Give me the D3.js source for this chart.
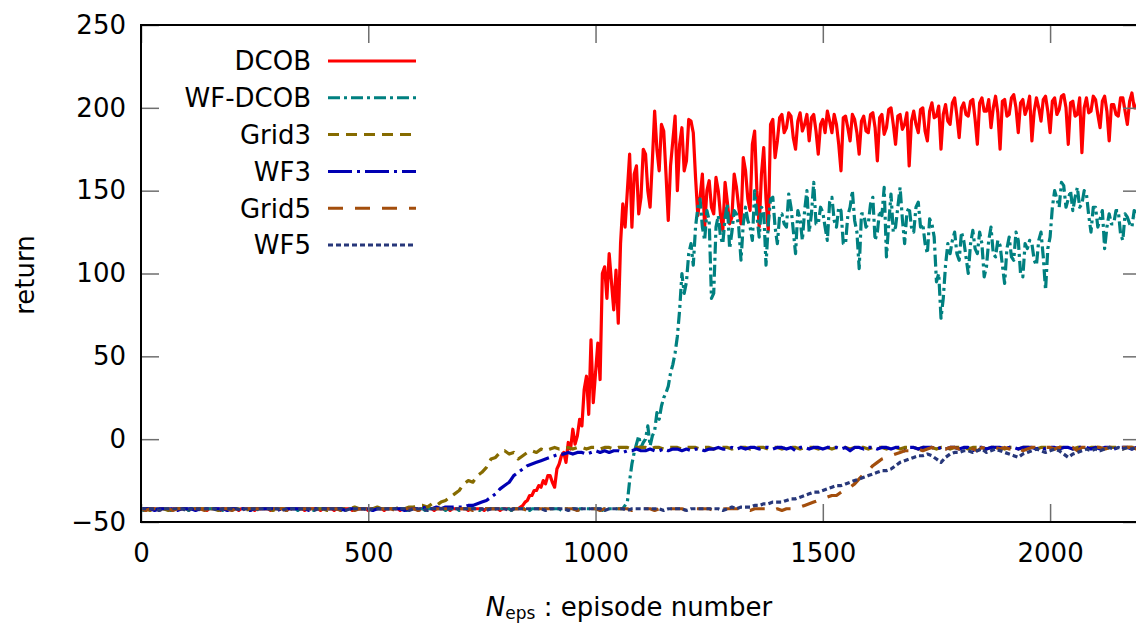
<!DOCTYPE html>
<html lang="en">
<head>
<meta charset="UTF-8">
<script src="https://d3js.org/d3.v7.min.js"></script>
<title>return vs episodes</title>
<style>
  body { margin: 0; background: #fff; }
  text { font-family: "DejaVu Sans", sans-serif; fill: #000; }
</style>
</head>
<body>
<svg id="chart" width="1136" height="625"></svg>
<script>
var width = 1136, height = 625;
var margin = {left: 141, top: 25, right: 1141, bottom: 522};

// episode numbers: the two noisy runs are read every 5 episodes, the rest every 10
var episodes5 = d3.range(0, 2201, 5);
var episodes10 = d3.range(0, 2201, 10);

var seriesNames = ['DCOB', 'WF-DCOB', 'Grid3', 'WF3', 'Grid5', 'WF5'];
var colors = ['#ff0000', '#008080', '#866b00', '#0000b3', '#a34e0c', '#27377a'];
var dashes = ['none', '12,4,3,4', '11,7', '24,5,3,5', '15,12', '5,3'];

var xTicks = [0, 500, 1000, 1500, 2000];
var yTicks = [-50, 0, 50, 100, 150, 200, 250];

var dcob = [
  -42,-42,-43,-42,-42,-42,-42,-42,-43,-42,-42,-42,-42,-43,-42,-42,-42,-42,-42,-42,
  -42,-43,-42,-42,-42,-42,-42,-42,-42,-43,-42,-42,-42,-42,-42,-43,-42,-42,-42,-42,
  -42,-42,-42,-43,-42,-42,-42,-42,-42,-42,-43,-42,-42,-42,-42,-42,-42,-43,-42,-42,
  -42,-42,-42,-42,-43,-42,-42,-42,-42,-42,-42,-42,-43,-42,-42,-42,-42,-42,-42,-43,
  -42,-42,-42,-42,-42,-43,-42,-42,-42,-42,-42,-42,-42,-43,-42,-42,-42,-42,-42,-42,
  -43,-42,-42,-42,-42,-42,-42,-43,-42,-42,-42,-42,-42,-42,-43,-42,-42,-42,-42,-42,
  -42,-42,-43,-42,-42,-42,-42,-42,-42,-43,-42,-42,-42,-42,-42,-42,-43,-42,-42,-42,
  -42,-42,-42,-42,-43,-42,-42,-42,-42,-42,-42,-43,-42,-42,-42,-42,-42,-42,-43,-42,
  -42,-42,-42,-43,-42,-42,-42,-41,-40,-38,-37,-34,-34,-31,-31,-28,-29,-25,-27,-22,
  -22,-26,-29,-18,-15,-10,-8,-14,-2,-6,6,-3,2,12,8,30,38,15,60,22,
  40,58,36,100,104,85,112,95,78,102,70,118,142,128,150,172,128,160,165,136,
  146,175,172,150,140,168,198,175,162,190,186,160,132,165,180,195,150,178,188,162,
  168,193,192,185,158,135,146,160,128,150,156,140,136,158,150,135,126,155,143,130,
  134,160,152,140,130,170,162,145,138,178,186,150,128,160,176,145,126,190,193,170,
  180,194,196,185,188,197,195,182,175,192,197,186,190,196,180,194,196,186,172,190,
  193,185,198,192,185,196,190,178,162,194,195,188,180,196,193,185,172,192,195,186,
  185,196,197,188,168,194,196,184,188,199,200,190,178,195,196,187,190,197,165,192,
  198,190,185,199,200,186,180,198,203,194,195,201,175,196,202,192,190,203,206,195,
  182,200,203,196,195,204,205,193,178,203,206,198,198,205,188,200,207,197,175,204,
  205,195,196,206,208,200,185,203,205,196,200,207,180,198,206,200,192,205,207,198,
  185,204,206,196,199,207,208,200,178,203,204,195,196,206,173,200,206,197,198,207,
  205,196,188,204,207,198,180,202,202,196,195,206,206,198,190,204,209,200,200,207,
  205
];

var wfDcob = [
  -42,-43,-42,-42,-42,-42,-43,-42,-42,-42,-42,-42,-42,-43,-42,-42,-42,-42,-42,-42,
  -42,-43,-42,-42,-42,-43,-42,-42,-42,-42,-42,-42,-42,-42,-42,-42,-43,-42,-42,-42,
  -43,-42,-42,-42,-42,-42,-42,-42,-43,-42,-42,-42,-43,-42,-42,-42,-42,-42,-42,-42,
  -42,-42,-42,-42,-43,-42,-42,-42,-42,-43,-42,-42,-42,-42,-42,-42,-43,-42,-42,-42,
  -42,-43,-42,-42,-42,-42,-42,-42,-43,-42,-42,-42,-42,-43,-42,-42,-42,-42,-42,-42,
  -42,-42,-43,-42,-42,-42,-42,-42,-42,-42,-43,-42,-42,-42,-42,-42,-42,-43,-42,-42,
  -42,-42,-42,-42,-42,-43,-42,-42,-42,-42,-42,-42,-42,-42,-43,-42,-42,-42,-42,-42,
  -43,-42,-42,-42,-42,-42,-42,-42,-42,-43,-42,-42,-42,-42,-42,-42,-42,-43,-42,-42,
  -42,-42,-42,-43,-42,-42,-42,-42,-42,-42,-42,-43,-42,-42,-42,-42,-42,-42,-42,-43,
  -42,-42,-42,-42,-42,-43,-42,-42,-42,-42,-42,-42,-43,-42,-42,-42,-42,-42,-42,-42,
  -42,-42,-42,-43,-42,-42,-42,-42,-42,-42,-42,-42,-42,-40,-38,-25,-15,-8,-3,2,
  -5,-2,0,8,-4,2,5,16,12,20,25,28,32,40,45,52,62,78,100,88,
  95,112,118,105,128,140,145,128,120,138,132,85,88,128,135,122,118,134,142,115,
  125,138,136,128,108,130,140,132,128,120,150,135,122,140,138,105,130,145,146,128,
  118,135,136,130,128,148,140,126,112,138,133,120,138,150,125,136,155,130,130,140,
  137,128,120,143,146,132,128,140,138,118,118,135,140,150,132,125,103,136,136,128,
  130,142,146,120,125,138,135,152,110,130,148,125,128,140,152,133,118,137,140,128,
  125,140,143,128,130,118,112,133,130,122,95,100,73,85,105,118,112,120,125,112,
  108,125,120,110,100,118,126,115,112,125,118,98,104,120,128,112,110,120,117,105,
  94,115,122,110,108,125,120,100,98,118,115,120,118,108,105,120,125,110,90,115,
  122,140,150,145,140,155,153,140,145,150,138,146,152,140,142,150,148,135,125,140,
  140,128,133,138,115,128,136,130,130,138,138,124,120,136,134,130,128,138,137,130,
  133
];

var grid3 = [
  -42,-42,-43,-42,-42,-42,-43,-42,-42,-42,
  -42,-43,-42,-42,-42,-42,-42,-43,-42,-42,
  -42,-42,-42,-43,-42,-42,-42,-42,-42,-43,
  -42,-42,-42,-42,-43,-42,-42,-42,-42,-42,
  -42,-43,-42,-42,-42,-42,-42,-41,-42,-42,
  -42,-42,-41,-42,-42,-42,-42,-41,-42,-41,
  -41,-40,-40,-41,-39,-40,-38,-37,-35,-33,
  -31,-27,-25,-26,-22,-20,-17,-12,-11,-8,
  -7,-9,-8,-12,-10,-8,-7,-8,-6,-7,
  -6,-5,-6,-6,-5,-6,-5,-5,-6,-5,
  -5,-6,-5,-5,-6,-5,-5,-5,-6,-5,
  -5,-5,-6,-5,-5,-6,-5,-5,-5,-6,
  -5,-5,-5,-6,-5,-5,-6,-5,-5,-5,
  -6,-5,-5,-5,-6,-5,-5,-5,-6,-5,
  -5,-6,-5,-5,-5,-6,-5,-5,-5,-6,
  -5,-5,-6,-5,-5,-5,-6,-5,-5,-5,
  -6,-5,-5,-5,-6,-5,-5,-6,-5,-5,
  -5,-6,-5,-5,-5,-6,-5,-5,-6,-5,
  -5,-5,-6,-5,-5,-5,-6,-5,-5,-5,
  -6,-5,-5,-6,-5,-5,-5,-6,-5,-5,
  -5,-6,-5,-5,-5,-6,-5,-5,-6,-5,
  -5,-5,-6,-5,-5,-5,-6,-5,-5,-5,
  -6
];

var wf3 = [
  -42,-42,-42,-43,-42,-42,-42,-42,-43,-42,
  -42,-42,-43,-42,-42,-42,-42,-42,-42,-43,
  -42,-42,-42,-42,-43,-42,-42,-42,-42,-42,
  -43,-42,-42,-42,-42,-42,-42,-43,-42,-42,
  -42,-42,-42,-42,-42,-43,-42,-42,-42,-42,
  -42,-43,-42,-42,-42,-42,-42,-42,-43,-42,
  -42,-42,-41,-42,-42,-41,-42,-41,-41,-41,
  -41,-41,-40,-40,-39,-38,-37,-35,-33,-30,
  -28,-26,-22,-20,-18,-16,-15,-14,-13,-12,
  -11,-10,-9,-9,-8,-9,-8,-8,-9,-8,
  -7,-8,-7,-8,-7,-7,-8,-7,-7,-6,
  -7,-7,-6,-7,-7,-6,-7,-6,-6,-7,
  -6,-7,-6,-6,-7,-6,-6,-5,-6,-6,
  -5,-6,-5,-6,-5,-5,-6,-5,-5,-6,
  -5,-5,-6,-5,-7,-5,-5,-6,-5,-5,
  -6,-5,-5,-5,-6,-5,-7,-5,-5,-6,
  -5,-5,-6,-5,-5,-6,-5,-5,-7,-5,
  -5,-6,-5,-5,-5,-6,-5,-6,-5,-5,
  -6,-5,-5,-7,-5,-5,-6,-5,-5,-5,
  -6,-5,-5,-6,-5,-5,-5,-6,-5,-6,
  -5,-5,-6,-5,-5,-6,-5,-5,-5,-6,
  -5,-6,-5,-5,-6,-5,-5,-5,-6,-5,
  -5
];

var grid5 = [
  -42,-43,-42,-42,-42,-42,-42,-43,-42,-42,
  -42,-42,-42,-42,-43,-42,-42,-42,-42,-42,
  -43,-42,-42,-42,-42,-42,-42,-42,-43,-42,
  -42,-42,-43,-42,-42,-42,-42,-42,-42,-42,
  -42,-42,-42,-42,-43,-42,-42,-43,-42,-42,
  -42,-42,-42,-42,-42,-42,-43,-42,-42,-42,
  -42,-43,-42,-42,-42,-42,-42,-42,-42,-43,
  -42,-42,-42,-43,-42,-42,-42,-42,-42,-42,
  -43,-42,-42,-42,-42,-43,-42,-42,-42,-42,
  -42,-42,-42,-42,-42,-42,-43,-42,-42,-42,
  -42,-43,-42,-42,-42,-42,-42,-42,-43,-42,
  -42,-42,-42,-43,-42,-42,-42,-42,-42,-42,
  -43,-42,-42,-42,-42,-42,-43,-42,-42,-42,
  -42,-42,-42,-42,-43,-42,-42,-42,-42,-43,
  -42,-43,-42,-42,-42,-41,-40,-39,-38,-37,
  -36,-35,-34,-34,-32,-30,-29,-27,-24,-21,
  -19,-16,-14,-12,-11,-10,-9,-8,-7,-7,
  -6,-6,-7,-6,-5,-6,-5,-6,-5,-5,
  -6,-5,-5,-6,-7,-5,-6,-5,-5,-6,
  -5,-6,-5,-5,-7,-6,-5,-5,-6,-5,
  -5,-6,-5,-5,-6,-5,-7,-5,-5,-6,
  -5,-5,-6,-5,-5,-6,-5,-5,-5,-6,
  -5
];

var wf5 = [
  -42,-42,-42,-42,-43,-42,-42,-42,-42,-42,
  -43,-42,-42,-42,-42,-42,-42,-43,-42,-42,
  -42,-42,-43,-42,-42,-42,-42,-42,-42,-42,
  -42,-43,-42,-42,-42,-42,-42,-42,-43,-42,
  -42,-42,-42,-42,-42,-43,-42,-42,-42,-42,
  -43,-42,-42,-42,-42,-42,-42,-42,-42,-43,
  -42,-42,-42,-43,-42,-42,-42,-42,-42,-42,
  -42,-42,-42,-42,-42,-42,-43,-42,-42,-42,
  -42,-43,-42,-42,-42,-42,-42,-42,-42,-43,
  -42,-42,-42,-42,-43,-42,-42,-42,-42,-42,
  -42,-42,-43,-42,-42,-42,-42,-43,-42,-42,
  -42,-42,-42,-42,-42,-43,-42,-42,-42,-42,
  -43,-42,-42,-42,-42,-42,-42,-42,-43,-42,
  -41,-42,-41,-41,-41,-40,-40,-39,-39,-38,
  -38,-38,-37,-36,-36,-35,-34,-33,-32,-32,
  -31,-30,-29,-28,-28,-27,-26,-25,-24,-23,
  -22,-21,-20,-19,-19,-18,-16,-14,-13,-12,
  -11,-10,-10,-9,-10,-12,-14,-11,-9,-8,
  -8,-7,-7,-8,-7,-6,-8,-7,-6,-7,
  -8,-9,-10,-11,-9,-8,-7,-6,-7,-8,
  -7,-6,-7,-9,-11,-9,-8,-7,-6,-7,
  -6,-7,-6,-5,-6,-5,-6,-5,-6,-5,
  -5
];

var seriesValues = [dcob, wfDcob, grid3, wf3, grid5, wf5];
var seriesEpisodes = [episodes5, episodes5, episodes10, episodes10, episodes10, episodes10];

var svg = d3.select('#chart');

var x = d3.scaleLinear().domain([0, 2200]).range([margin.left, margin.right]);
var y = d3.scaleLinear().domain([-50, 250]).range([margin.bottom, margin.top]);

svg.append('clipPath').attr('id', 'plotclip')
  .append('rect')
  .attr('x', margin.left).attr('y', margin.top)
  .attr('width', margin.right - margin.left).attr('height', margin.bottom - margin.top);

// data lines
var line = d3.line()
  .x(function(d) { return x(d[0]); })
  .y(function(d) { return y(d[1]); });

var plot = svg.append('g').attr('clip-path', 'url(#plotclip)');
seriesNames.forEach(function(name, i) {
  var pts = seriesEpisodes[i].map(function(e, j) { return [e, seriesValues[i][j]]; });
  plot.append('path')
    .datum(pts)
    .attr('d', line)
    .attr('fill', 'none')
    .attr('stroke', colors[i])
    .attr('stroke-width', 3.2)
    .attr('stroke-linejoin', 'round')
    .attr('stroke-dasharray', dashes[i]);
});

// axes, gnuplot style: inward ticks on all four sides
var tickLen = 18;
var gLeft = svg.append('g').attr('transform', 'translate(' + margin.left + ',0)')
  .call(d3.axisLeft(y).tickValues(yTicks).tickSize(-tickLen).tickPadding(15));
var gRight = svg.append('g').attr('transform', 'translate(' + margin.right + ',0)')
  .call(d3.axisRight(y).tickValues(yTicks).tickSize(-tickLen).tickFormat(''));
var gBottom = svg.append('g').attr('transform', 'translate(0,' + margin.bottom + ')')
  .call(d3.axisBottom(x).tickValues(xTicks).tickSize(-tickLen).tickPadding(22).tickFormat(d3.format('d')));
var gTop = svg.append('g').attr('transform', 'translate(0,' + margin.top + ')')
  .call(d3.axisTop(x).tickValues(xTicks).tickSize(-tickLen).tickFormat(''));

[gLeft, gRight, gBottom, gTop].forEach(function(g) {
  g.select('.domain').remove();
  g.selectAll('.tick line').attr('stroke', '#6e6e6e').attr('stroke-width', 1.5);
  g.selectAll('.tick text')
    .style('font-family', '"DejaVu Sans", sans-serif')
    .style('font-size', '26px')
    .attr('fill', '#000');
});

// frame
svg.append('rect')
  .attr('x', margin.left).attr('y', margin.top)
  .attr('width', margin.right - margin.left).attr('height', margin.bottom - margin.top)
  .attr('fill', 'none').attr('stroke', '#000').attr('stroke-width', 2);

// axis titles
svg.append('text')
  .attr('transform', 'translate(34,275) rotate(-90)')
  .attr('text-anchor', 'middle')
  .style('font-size', '26px')
  .text('return');

var xt = svg.append('text')
  .attr('x', 629).attr('y', 616)
  .attr('text-anchor', 'middle')
  .style('font-size', '26px');
xt.append('tspan').style('font-style', 'italic').text('N');
xt.append('tspan').attr('dy', 3).style('font-size', '17px').text('eps');
xt.append('tspan').attr('dy', -3).text(' : episode number');

// legend
var legend = svg.append('g');
seriesNames.forEach(function(name, i) {
  var ly = 61 + i * 36.8;
  legend.append('text')
    .attr('x', 311).attr('y', ly)
    .attr('dy', '0.36em')
    .attr('text-anchor', 'end')
    .style('font-size', '26px')
    .text(name);
  legend.append('line')
    .attr('x1', 328).attr('x2', 416)
    .attr('y1', ly).attr('y2', ly)
    .attr('stroke', colors[i])
    .attr('stroke-width', 3)
    .attr('stroke-dasharray', dashes[i]);
});
</script>
</body>
</html>
